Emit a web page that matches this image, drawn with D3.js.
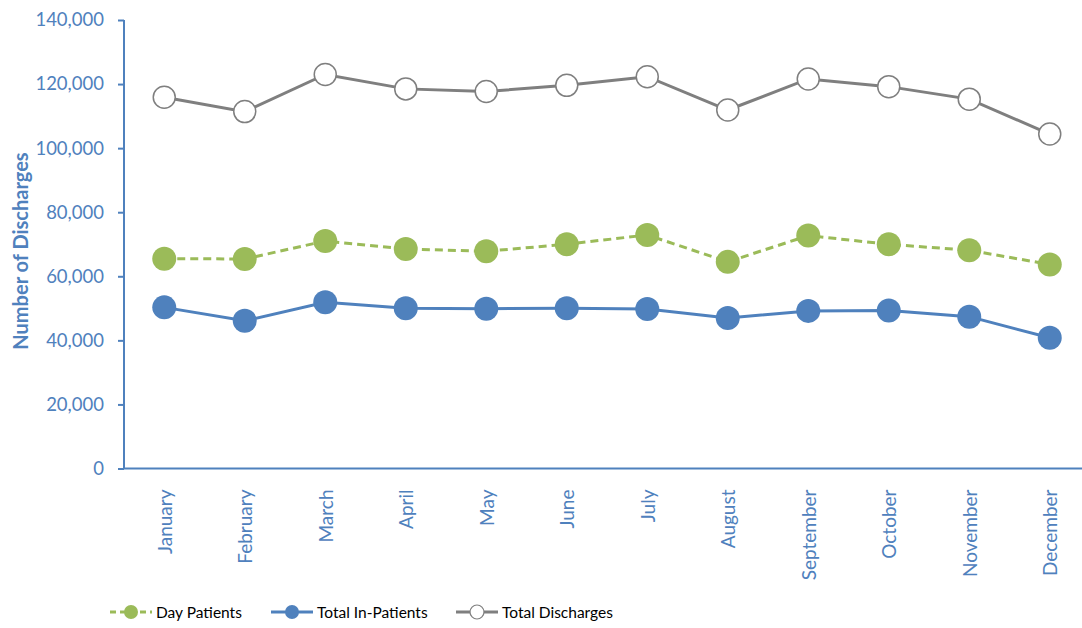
<!DOCTYPE html>
<html>
<head>
<meta charset="utf-8">
<script src="https://cdn.jsdelivr.net/npm/d3@7"></script>
<style>
  html, body { margin: 0; padding: 0; background: #fff; }
  svg { display: block; }
</style>
</head>
<body>
<svg id="chart" width="1082" height="628"></svg>
<script>
const months = ["January","February","March","April","May","June","July","August","September","October","November","December"];
const dayPatients = [65500, 65400, 71000, 68500, 67800, 70000, 72900, 64500, 72700, 70000, 68100, 63700];
const inPatients = [50300, 46100, 51900, 50000, 49900, 50000, 49800, 47000, 49200, 49300, 47400, 40800];
const totalDischarges = [115900, 111400, 123000, 118500, 117700, 119600, 122300, 111900, 121600, 119200, 115300, 104400];
const yTicks = [0, 20000, 40000, 60000, 80000, 100000, 120000, 140000];
const yTitle = "Number of Discharges";
const seriesNames = ["Day Patients", "Total In-Patients", "Total Discharges"];

(function () {
const W = 1082, H = 628;
const mLeft = 124, mRight = 1090, mTop = 20, mBottom = 468.5;
const axisColor = "#4F81BD";
const textColor = "#4F81BD";
const font = "Lato, 'Open Sans', sans-serif";

const svg = d3.select("#chart");

const x = d3.scaleBand().domain(months).range([mLeft, mRight]);
const y = d3.scaleLinear().domain([0, 140000]).range([mBottom, mTop]);
const cx = m => x(m) + x.bandwidth() / 2;

// Y axis
const yAxis = svg.append("g")
  .attr("transform", `translate(${mLeft},0)`)
  .call(d3.axisLeft(y).tickValues(yTicks).tickSize(6).tickPadding(14).tickFormat(d3.format(",")));
yAxis.select(".domain").attr("stroke", axisColor).attr("stroke-width", 2).attr("d", `M0,${mTop}V${mBottom}`);
yAxis.selectAll(".tick line").attr("stroke", axisColor).attr("stroke-width", 2);
yAxis.selectAll(".tick text").attr("fill", textColor).attr("font-family", font).attr("font-size", 18.5);

// X axis
const xAxis = svg.append("g")
  .attr("transform", `translate(0,${mBottom})`)
  .call(d3.axisBottom(x).tickSize(0).tickPadding(0));
xAxis.select(".domain").attr("stroke", axisColor).attr("stroke-width", 2).attr("d", `M${mLeft},0H${W}`);
xAxis.selectAll(".tick text")
  .attr("fill", textColor)
  .attr("font-family", font)
  .attr("font-size", 19)
  .attr("text-anchor", "end")
  .attr("dy", null)
  .attr("y", 0)
  .attr("x", 0)
  .attr("transform", "translate(0,21) rotate(-90)")
  .attr("dominant-baseline", "central");

// Y title
svg.append("text")
  .attr("transform", `translate(20,251) rotate(-90)`)
  .attr("text-anchor", "middle")
  .attr("dominant-baseline", "central")
  .attr("fill", textColor)
  .attr("font-family", font)
  .attr("font-weight", "bold")
  .attr("font-size", 20)
  .text(yTitle);

const line = d3.line().x((d, i) => cx(months[i])).y(d => y(d));

const series = [
  { name: seriesNames[0], data: dayPatients, stroke: "#9BBB59", dash: "8,5", fill: "#9BBB59", mstroke: "none", r: 12 },
  { name: seriesNames[1], data: inPatients, stroke: "#4F81BD", dash: null, fill: "#4F81BD", mstroke: "none", r: 12 },
  { name: seriesNames[2], data: totalDischarges, stroke: "#7F7F7F", dash: null, fill: "#FFFFFF", mstroke: "#7F7F7F", r: 11 }
];

series.forEach(s => {
  svg.append("path")
    .datum(s.data)
    .attr("d", line)
    .attr("fill", "none")
    .attr("stroke", s.stroke)
    .attr("stroke-width", 3)
    .attr("stroke-dasharray", s.dash);
  svg.append("g").selectAll("circle")
    .data(s.data)
    .join("circle")
    .attr("cx", (d, i) => cx(months[i]))
    .attr("cy", d => y(d))
    .attr("r", s.r)
    .attr("fill", s.fill)
    .attr("stroke", s.mstroke)
    .attr("stroke-width", 1.5);
});

// Legend
const legendY = 612;
const legendX = [110, 271, 456];
series.forEach((s, i) => {
  const g = svg.append("g").attr("transform", `translate(${legendX[i]},${legendY})`);
  g.append("line").attr("x1", 0).attr("x2", 42).attr("y1", 0).attr("y2", 0)
    .attr("stroke", s.stroke).attr("stroke-width", 3).attr("stroke-dasharray", s.dash ? "6,4" : null);
  g.append("circle").attr("cx", 21).attr("cy", 0).attr("r", 7)
    .attr("fill", s.fill).attr("stroke", s.mstroke).attr("stroke-width", 1.2);
  g.append("text").attr("x", 46).attr("y", 0)
    .attr("dominant-baseline", "central")
    .attr("fill", "#000")
    .attr("font-family", font)
    .attr("font-size", 15.5)
    .text(s.name);
});
})();
</script>
</body>
</html>
